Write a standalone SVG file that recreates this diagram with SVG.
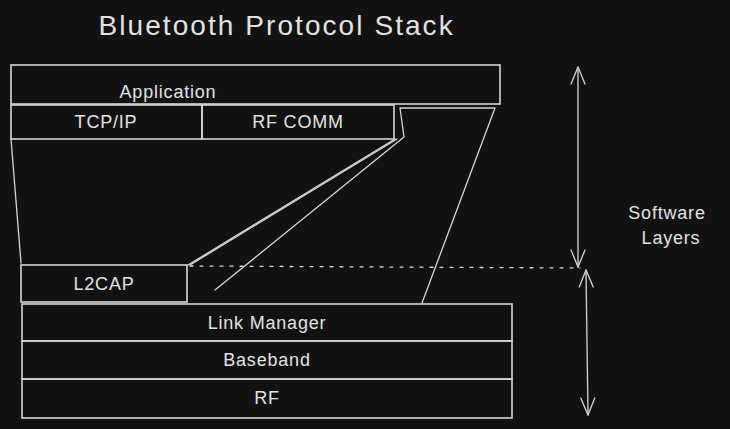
<svg xmlns="http://www.w3.org/2000/svg" width="730" height="429" viewBox="0 0 730 429">
<style>
.box{fill:none;stroke:#d6d6d6;stroke-width:1.6}
.ln{fill:none;stroke:#d6d6d6;stroke-width:1.3;stroke-linecap:round;stroke-linejoin:round}
.t{font-family:"Liberation Sans",Arial,sans-serif;font-size:18px;letter-spacing:0.8px;fill:#e2e2e2;text-anchor:middle;dominant-baseline:central}
</style>
<defs>
<marker id="ah" viewBox="0 0 20 20" refX="19" refY="10" markerWidth="20" markerHeight="20" markerUnits="userSpaceOnUse" orient="auto-start-reverse">
<path d="M2 3 L19 10 L2 17" fill="none" stroke="#d6d6d6" stroke-width="1.3" stroke-linecap="round" stroke-linejoin="round"/>
</marker>
</defs>
<rect width="730" height="429" fill="#121212"/>
<text x="276" y="25" class="t" style="font-size:28px" textLength="355" lengthAdjust="spacing">Bluetooth Protocol Stack</text>
<g id="application"><rect class="box" x="11" y="65" width="489" height="39"/><text class="t" x="168" y="92">Application</text></g>
<g id="tcpip"><rect class="box" x="11" y="105" width="191" height="34"/><text class="t" x="106" y="122">TCP/IP</text></g>
<g id="rfcomm"><rect class="box" x="202" y="105" width="192" height="34"/><text class="t" x="298" y="122">RF COMM</text></g>
<g id="l2cap"><rect class="box" x="21" y="265" width="166" height="37"/><text class="t" x="104" y="284">L2CAP</text></g>
<g id="linkmanager"><rect class="box" x="22" y="304" width="490" height="37"/><text class="t" x="267" y="323">Link Manager</text></g>
<g id="baseband"><rect class="box" x="22" y="341" width="490" height="38"/><text class="t" x="267" y="360">Baseband</text></g>
<g id="rf"><rect class="box" x="22" y="379" width="490" height="39"/><text class="t" x="267" y="398">RF</text></g>
<g id="label"><text class="t" x="667" y="213">Software</text><text class="t" x="671" y="238">Layers</text></g>
<g id="connectors">
<path class="ln" d="M11 139 L21 263"/>
<path class="ln" d="M395 139 L188 265"/>
<path class="ln" d="M397 139 L190 265"/>
<path class="ln" d="M215 290 L404 137 L400 108 L495 108 L422 303"/>
<path class="ln" d="M190 266 L580 268" stroke-dasharray="3 7"/>
<path class="ln" d="M578 67 L578 267" marker-start="url(#ah)" marker-end="url(#ah)"/>
<path class="ln" d="M586 270 L588 415" marker-start="url(#ah)" marker-end="url(#ah)"/>
</g>
</svg>
